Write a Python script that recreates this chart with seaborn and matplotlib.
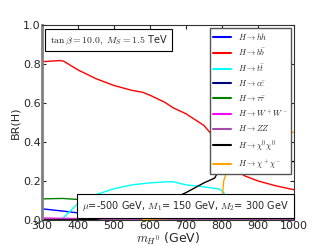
import numpy as np
import pandas as pd
import matplotlib
matplotlib.use("Agg")
import matplotlib.pyplot as plt
import seaborn as sns

# m_H0 grid (GeV)
mass = [300, 350, 360, 400, 450, 500, 550, 580, 600, 640, 665, 700, 750, 780, 790,
        800, 805, 810, 815, 820, 825, 845, 865, 900, 950, 1000]

br_hh = [0.057, 0.047, 0.045, 0.036, 0.028, 0.022, 0.018, 0.016, 0.015, 0.013, 0.012, 0.010,
         0.008, 0.007, 0.007, 0.007, 0.007, 0.006, 0.006, 0.006, 0.006, 0.006, 0.005, 0.005, 0.004, 0.004]
br_bb = [0.812, 0.818, 0.815, 0.770, 0.725, 0.690, 0.665, 0.655, 0.640, 0.605, 0.575, 0.545,
         0.485, 0.420, 0.385, 0.345, 0.325, 0.310, 0.295, 0.285, 0.275, 0.245, 0.225, 0.200, 0.175, 0.155]
br_tt = [np.nan, 0.0, 0.012, 0.085, 0.130, 0.160, 0.180, 0.186, 0.190, 0.195, 0.196, 0.180,
         0.170, 0.162, 0.160, 0.150, 0.140, 0.120, 0.100, 0.085, 0.075, 0.065, 0.060, 0.057, 0.055, 0.055]
br_cc = [0.002] * 26
br_tautau = [0.108, 0.110, 0.110, 0.105, 0.097, 0.090, 0.083, 0.079, 0.075, 0.070, 0.066, 0.060,
             0.053, 0.049, 0.047, 0.045, 0.043, 0.041, 0.040, 0.039, 0.038, 0.035, 0.033, 0.030, 0.026, 0.022]
br_ww = [0.010, 0.008, 0.008, 0.007, 0.006, 0.006, 0.005, 0.005, 0.005, 0.004, 0.004, 0.004,
         0.004, 0.003, 0.003, 0.003, 0.003, 0.003, 0.003, 0.003, 0.003, 0.003, 0.003, 0.003, 0.003, 0.003]
br_zz = [0.005, 0.004, 0.004, 0.004, 0.003, 0.003, 0.003, 0.003, 0.003, 0.002, 0.002, 0.002,
         0.002, 0.002, 0.002, 0.002, 0.002, 0.002, 0.002, 0.002, 0.002, 0.002, 0.002, 0.002, 0.002, 0.002]
br_n0n0 = [0.0, 0.0, 0.0, 0.0, 0.003, 0.020, 0.040, 0.052, 0.065, 0.090, 0.110, 0.140,
           0.190, 0.215, 0.250, 0.290, 0.290, 0.285, 0.280, 0.275, 0.275, 0.278, 0.280, 0.285, 0.292, 0.300]
br_cpcm = [np.nan, np.nan, np.nan, np.nan, np.nan, np.nan, np.nan, 0.002, 0.004, 0.007, 0.008, 0.010,
           0.012, 0.014, 0.030, 0.100, 0.200, 0.230, 0.250, 0.265, 0.280, 0.330, 0.370, 0.410, 0.435, 0.450]

labels = [r"$H\rightarrow hh$", r"$H\rightarrow b\bar{b}$", r"$H\rightarrow t\bar{t}$",
          r"$H\rightarrow c\bar{c}$", r"$H\rightarrow \tau\bar{\tau}$", r"$H\rightarrow W^+W^-$",
          r"$H\rightarrow ZZ$", r"$H\rightarrow \chi^0\chi^0$", r"$H\rightarrow \chi^+\chi^-$"]
colors = ["blue", "red", "cyan", "navy", "green", "magenta", "#a64ca6", "black", "orange"]
series = [br_hh, br_bb, br_tt, br_cc, br_tautau, br_ww, br_zz, br_n0n0, br_cpcm]

rows = []
for lab, vals in zip(labels, series):
    for m, v in zip(mass, vals):
        rows.append({"mass": m, "BR": v, "channel": lab})
df = pd.DataFrame(rows)

sns.set_style("ticks")
plt.rcParams["mathtext.fontset"] = "cm"
plt.rcParams["font.family"] = ["DejaVu Sans"]

fig = plt.figure(figsize=(3.28, 2.46), dpi=100)
ax = fig.add_axes([0.128, 0.106, 0.768, 0.792])
sns.lineplot(data=df, x="mass", y="BR", hue="channel", hue_order=labels,
             palette=dict(zip(labels, colors)), linewidth=1.0, ax=ax)

ax.set_xlim(300, 1000)
ax.set_ylim(0, 1.0)
ax.set_xticks([300, 400, 500, 600, 700, 800, 900, 1000])
ax.set_yticks([0.0, 0.2, 0.4, 0.6, 0.8, 1.0])
ax.tick_params(direction="in", top=True, right=True, labelsize=8, length=3, pad=1)
ax.set_xlabel(r"$m_{H^0}$ (GeV)", fontsize=9, labelpad=0)
ax.set_ylabel("BR(H)", fontsize=8, labelpad=2)
for s in ax.spines.values():
    s.set_color("#333333")
ax.spines["left"].set_color("gray")
ax.spines["left"].set_linewidth(2)

leg = ax.legend(loc="upper right", fontsize=6, frameon=True, fancybox=False, framealpha=1,
                edgecolor="#555555", borderaxespad=0.3, handlelength=2.2, labelspacing=0.55)
leg.get_frame().set_linewidth(1.0)
leg.set_zorder(10)
for h in leg.get_lines():
    h.set_linewidth(1.5)

ax.text(0.03, 0.955, r"$\tan\beta=10.0,\ M_S=1.5$ TeV", transform=ax.transAxes, fontsize=7,
        va="top", ha="left", zorder=10,
        bbox=dict(boxstyle="square,pad=0.45", fc="white", ec="black", lw=0.8))
ax.text(0.98, 0.035, r"$\mu$=-500 GeV, $M_1$= 150 GeV, $M_2$= 300 GeV", transform=ax.transAxes,
        fontsize=7, va="bottom", ha="right", zorder=10,
        bbox=dict(boxstyle="square,pad=0.5", fc="white", ec="black", lw=0.8))

fig.savefig("out.png", dpi=100)
